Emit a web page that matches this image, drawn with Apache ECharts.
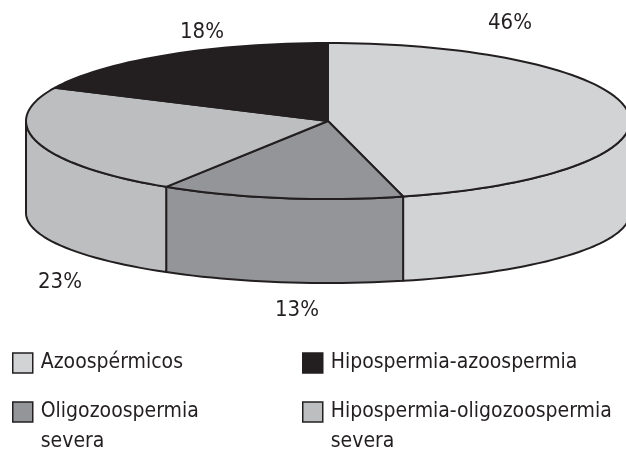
<!DOCTYPE html>
<html>
<head>
<meta charset="utf-8">
<script src="https://cdn.jsdelivr.net/npm/echarts@6/dist/echarts.min.js"></script>
<style>
  html, body { margin: 0; background: #fff; }
  #main { width: 626px; height: 451px; }
</style>
</head>
<body>
<div id="main"></div>
<script>
// slices, clockwise from 12 o'clock
var names = ['Azoospérmicos', 'Oligozoospermia\nsevera', 'Hipospermia-oligozoospermia\nsevera', 'Hipospermia-azoospermia'];
var values = [46, 13, 23, 18];
var labels = ['46%', '13%', '23%', '18%'];
var colors = ['#d1d3d4', '#939598', '#bcbec0', '#231f20'];

var FONT = "'Liberation Sans Narrow', 'DejaVu Sans Condensed', 'Noto Sans', sans-serif";
var INK = '#231f20';

// flattened disc (bottom rim a bit flatter, like the original perspective)
var cx = 328, cy = 121, rx = 302, ry = 78, depth = 92, ryBottom = 70;

var total = values.reduce(function (s, v) { return s + v; }, 0);
var starts = [];
var acc = 0;
values.forEach(function (v) { starts.push(acc); acc += v; });

function pt(t, dy, ryy) {
  var r = t * Math.PI / 180;
  return [cx + rx * Math.sin(r), cy - ryy * Math.cos(r) + dy];
}
function arc(a, b, dy, ryy) {
  var pts = [];
  var n = Math.max(2, Math.ceil((b - a) / 2));
  for (var i = 0; i <= n; i++) pts.push(pt(a + (b - a) * i / n, dy, ryy));
  return pts;
}

function renderSlice(params, api) {
  var a = api.value(0) / total * 360;
  var b = (api.value(0) + api.value(1)) / total * 360;
  var col = colors[params.seriesIndex];
  var style = { fill: col, stroke: INK, lineWidth: 2, lineJoin: 'round' };
  var children = [];
  var s = Math.max(a, 90), e = Math.min(b, 270);
  if (s < e) {
    children.push({
      type: 'polygon',
      shape: { points: arc(s, e, 0, ry).concat(arc(s, e, depth, ryBottom).reverse()) },
      style: style
    });
  }
  children.push({
    type: 'polygon',
    shape: { points: [[cx, cy]].concat(arc(a, b, 0, ry)) },
    style: style
  });
  return { type: 'group', children: children };
}

var series = names.map(function (n, i) {
  return {
    name: n,
    type: 'custom',
    coordinateSystem: 'none',
    renderItem: renderSlice,
    itemStyle: { color: colors[i], borderColor: INK, borderWidth: 1.5 },
    data: [[starts[i], values[i]]],
    silent: true
  };
});

function legendAt(i, left, top) {
  return {
    data: [names[i]],
    // empty first line keeps the first text line level with the square
    formatter: function (name) {
      return name.indexOf('\n') >= 0 ? '\n' + name : name;
    },
    left: left,
    top: top,
    padding: 0,
    icon: 'rect',
    itemWidth: 20,
    itemHeight: 20,
    selectedMode: false,
    itemStyle: { borderColor: INK, borderWidth: 1.5 },
    textStyle: { fontFamily: FONT, fontSize: 21, color: INK, lineHeight: 30, padding: [0, 0, 0, 3] }
  };
}

// label anchors for the percentage texts
var labelPos = [[510, 23], [297, 310], [60, 282], [202, 32]];

var chartDom = document.getElementById('main');
var myChart = echarts.init(chartDom);
var option;

option = {
  animation: false,
  legend: [
    legendAt(0, 12, 348),
    legendAt(3, 302, 348),
    legendAt(1, 12, 367),
    legendAt(2, 302, 367)
  ],
  graphic: labels.map(function (t, i) {
    return {
      type: 'text',
      x: labelPos[i][0],
      y: labelPos[i][1],
      style: {
        text: t,
        fontFamily: FONT,
        fontSize: 22,
        fill: INK,
        align: 'center',
        verticalAlign: 'middle'
      }
    };
  }),
  series: series
};

option && myChart.setOption(option);
</script>
</body>
</html>
